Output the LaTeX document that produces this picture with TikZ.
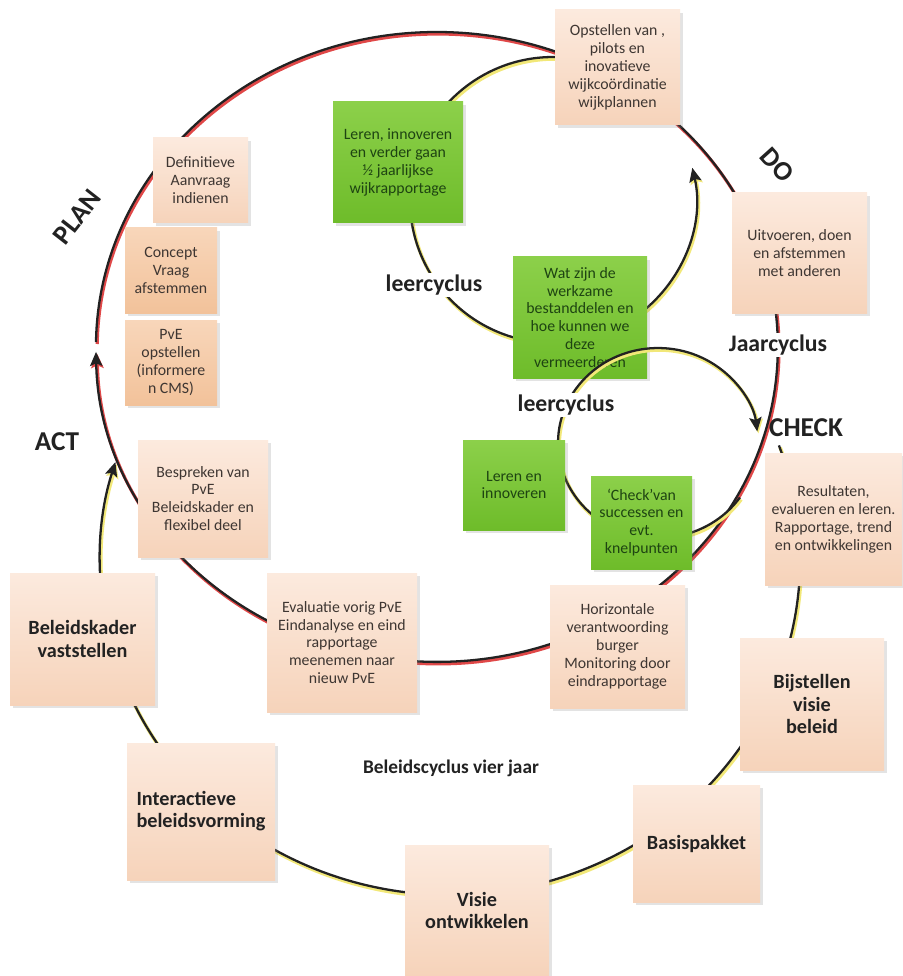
\documentclass[tikz,border=0pt]{standalone}
\usepackage{fontspec}
\setmainfont{Carlito}
\usetikzlibrary{arrows.meta,fit,shadows}
\definecolor{ptop}{RGB}{252,234,222}
\definecolor{pbot}{RGB}{246,211,186}
\definecolor{otop}{RGB}{248,214,186}
\definecolor{obot}{RGB}{242,194,154}
\definecolor{gtop}{RGB}{140,208,74}
\definecolor{gbot}{RGB}{110,188,42}
\definecolor{ink}{RGB}{34,34,34}
\definecolor{redsh}{RGB}{224,72,72}
\definecolor{yelsh}{RGB}{242,232,120}
\definecolor{ptext}{RGB}{62,54,50}
\definecolor{gtext}{RGB}{30,68,18}
\begin{document}
\begin{tikzpicture}[x=0.02cm,y=-0.02cm,
 boxbase/.style={inner sep=0pt, drop shadow={opacity=0.22, shadow xshift=1.6pt, shadow yshift=-1.6pt}},
 pbox/.style={boxbase, top color=ptop, bottom color=pbot},
 obox/.style={boxbase, top color=otop, bottom color=obot},
 gbox/.style={boxbase, top color=gtop, bottom color=gbot},
 ptxt/.style={inner sep=0pt, align=center, text=ptext, font=\fontsize{9}{10.2}\selectfont},
 gtxt/.style={inner sep=0pt, align=center, text=gtext, font=\fontsize{9}{10.2}\selectfont},
 btxt/.style={inner sep=0pt, align=center, text=ink, font=\fontsize{11.5}{12.6}\selectfont\bfseries},
 lbl/.style={text=ink, font=\fontsize{13.5}{15}\selectfont\bfseries, inner sep=1pt},
 bigl/.style={text=ink, font=\fontsize{15.5}{17}\selectfont\bfseries, inner sep=0pt},
 ln/.style={draw=ink, line width=1.3pt},
 redln/.style={draw=redsh, line width=1.8pt, shift={(1.2,2)}},
 yelln/.style={draw=yelsh, line width=2pt, shift={(1.2,2)}},
 tip/.style={-{Stealth[length=8pt,width=7pt,inset=1.5pt]}},
]
\useasboundingbox (0,0) rectangle (902,976);
\fill[white] (0,0) rectangle (902,976);

% four-year policy cycle
\draw[yelln,tip] (778.9,445.4) arc[start angle=20, end angle=-197, x radius=7cm, y radius=6.7cm];
\draw[ln,tip] (778.9,445.4) arc[start angle=20, end angle=-197, x radius=7cm, y radius=6.7cm];

% year cycle
\draw[redln,tip] (96,342) arc[start angle=-180.9, end angle=-539.1, x radius=6.82cm, y radius=6.3cm];
\draw[ln,tip] (96,342) arc[start angle=-180.9, end angle=-539.1, x radius=6.82cm, y radius=6.3cm];

% upper learning cycle
\draw[yelln,tip] (670.1,118) arc[start angle=35, end angle=373, radius=2.86cm];
\draw[ln,tip] (670.1,118) arc[start angle=35, end angle=373, radius=2.86cm];

\node[gbox, fit={(513,257)(647,378)}] (wat) {};
\node[gtxt] (watt) at (wat.center) {Wat zijn de\\werkzame\\bestanddelen en\\hoe kunnen we\\deze\\vermeerderen};

% lower learning cycle
\draw[yelln,tip] (739.9,497.5) arc[start angle=-35, end angle=-353, x radius=2cm, y radius=1.9cm];
\draw[ln,tip] (739.9,497.5) arc[start angle=-35, end angle=-353, x radius=2cm, y radius=1.9cm];

\node[pbox, fit={(555,10)(680,125)}] (opst) {};
\node[pbox, fit={(153,138)(248,223)}] (defi) {};
\node[obox, fit={(125,228)(217,313)}] (conc) {};
\node[obox, fit={(125,320)(217,405)}] (pve) {};
\node[gbox, fit={(333,102)(463,223)}] (leren1) {};
\node[pbox, fit={(732,193)(867,313)}] (uitv) {};
\node[gbox, fit={(463,440)(565,530)}] (leren2) {};
\node[gbox, fit={(591,476)(692,569)}] (chkbox) {};
\node[pbox, fit={(765,453)(902,585)}] (resu) {};
\node[pbox, fit={(550,585)(685,708)}] (hori) {};
\node[pbox, fit={(740,638)(884,770)}] (bijs) {};
\node[pbox, fit={(10,573)(155,705)}] (bele) {};
\node[pbox, fit={(138,440)(268,557)}] (besp) {};
\node[pbox, fit={(267,573)(417,712)}] (eval) {};
\node[pbox, fit={(127,743)(275,880)}] (inte) {};
\node[pbox, fit={(405,845)(549,976)}] (visi) {};
\node[pbox, fit={(633,785)(760,902)}] (basi) {};

\node[ptxt] (opstt) at (opst.center) {Opstellen van ,\\pilots en\\inovatieve\\wijkcoördinatie\\wijkplannen};
\node[ptxt] (defit) at (defi.center) {Definitieve\\Aanvraag\\indienen};
\node[ptxt] (conct) at (conc.center) {Concept\\Vraag\\afstemmen};
\node[ptxt] (pvet) at (pve.center) {PvE\\opstellen\\(informere\\n CMS)};
\node[gtxt] (leren1t) at (leren1.center) {Leren, innoveren\\en verder gaan\\½ jaarlijkse\\wijkrapportage};
\node[ptxt] (uitvt) at (uitv.center) {Uitvoeren, doen\\en afstemmen\\met anderen};
\node[gtxt] (leren2t) at (leren2.center) {Leren en\\innoveren};
\node[gtxt] (chkboxt) at (chkbox.center) {‘Check’van\\successen en\\evt.\\knelpunten};
\node[ptxt] (resut) at (resu.center) {Resultaten,\\evalueren en leren.\\Rapportage, trend\\en ontwikkelingen};
\node[ptxt] (horit) at (hori.center) {Horizontale\\verantwoording\\burger\\Monitoring door\\eindrapportage};
\node[btxt] (bijst) at (bijs.center) {Bijstellen\\visie\\beleid};
\node[btxt] (belet) at (bele.center) {Beleidskader\\vaststellen};
\node[ptxt] (bespt) at (besp.center) {Bespreken van\\PvE\\Beleidskader en\\flexibel deel};
\node[ptxt] (evalt) at (eval.center) {Evaluatie vorig PvE\\Eindanalyse en eind\\rapportage\\meenemen naar\\nieuw PvE};
\node[btxt, align=left] (intet) at (inte.center) {Interactieve\\beleidsvorming};
\node[btxt] (visit) at (visi.center) {Visie\\ontwikkelen};
\node[btxt] (basit) at (basi.center) {Basispakket};

% labels
\node[bigl, rotate=52] (plan) at (77,217) {PLAN};
\node[bigl, rotate=-48] (do) at (777,165) {DO};
\node[bigl] (act) at (57,442) {ACT};
\node[bigl] (chk) at (806,428) {CHECK};
\node[lbl, fill=white] (jaar) at (778,345) {Jaarcyclus};
\node[lbl, fill=white] (leer1) at (434,285) {leercyclus};
\node[lbl, fill=white] (leer2) at (566,405) {leercyclus};
\node[text=ink, font=\fontsize{11}{13}\selectfont\bfseries] (bcv) at (451,768) {Beleidscyclus vier jaar};
\end{tikzpicture}
\end{document}
